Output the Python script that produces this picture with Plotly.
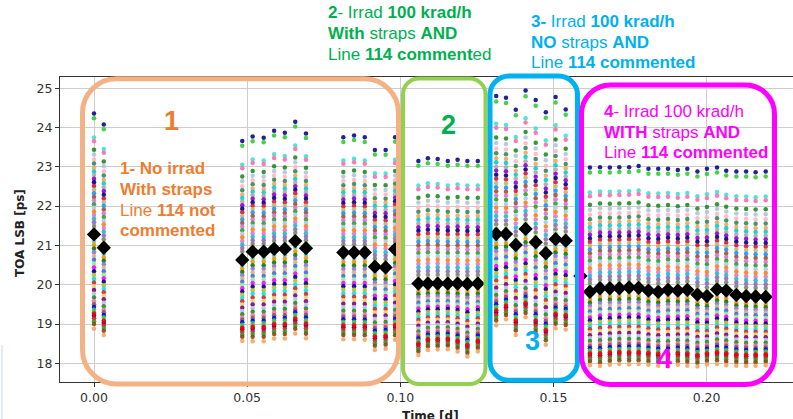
import plotly.graph_objects as go

# ---------------- data ----------------
# time of each measurement column [d]
times = [0.0, 0.0032,
         0.0484, 0.0518, 0.0554, 0.0588, 0.0623, 0.0657, 0.0692,
         0.0814, 0.0849, 0.0884, 0.0917, 0.0952, 0.0983,
         0.1059, 0.1090, 0.1122, 0.1155, 0.1187, 0.1219, 0.1253,
         0.1313, 0.1345, 0.1377, 0.1409, 0.1442, 0.1475, 0.1507, 0.1540,
         0.1588,
         0.1619, 0.1652, 0.1684, 0.1715, 0.1747, 0.1778, 0.1810, 0.1842, 0.1874, 0.1906,
         0.1937, 0.1970, 0.2001, 0.2034, 0.2064, 0.2097, 0.2129, 0.2160, 0.2193]
# mean TOA LSB of each column (black diamonds) [ps]
col_mean = [21.28, 20.94,
            20.63, 20.84, 20.84, 20.91, 20.91, 21.11, 20.93,
            20.82, 20.82, 20.82, 20.46, 20.44, 20.90,
            20.03, 20.03, 20.03, 20.03, 20.03, 20.02, 20.03,
            21.29, 21.29, 21.01, 21.42, 21.08, 20.80, 21.16, 21.12,
            20.22,
            19.82, 19.91, 19.91, 19.91, 19.93, 19.92, 19.85, 19.82, 19.87, 19.85,
            19.87, 19.75, 19.71, 19.88, 19.85, 19.74, 19.71, 19.70, 19.69]
# highest pixel value in each column [ps]
col_top = [24.36, 24.08,
           23.66, 23.77, 23.74, 23.92, 23.87, 24.15, 23.85,
           23.75, 23.80, 23.75, 23.43, 23.43, 23.75,
           23.15, 23.22, 23.20, 23.15, 23.18, 23.15, 23.15,
           24.80, 24.76, 24.45, 24.94, 24.70, 24.39, 24.78, 24.46,
           21.90,
           22.98, 22.99, 22.98, 22.99, 22.99, 23.02, 22.95, 22.95, 22.95, 22.92,
           22.95, 22.88, 22.95, 22.98, 22.90, 22.88, 22.88, 22.86, 22.88]
# lowest pixel value in each column [ps]
col_bottom = [18.88, 18.72,
              18.57, 18.56, 18.56, 18.63, 18.63, 18.76, 18.64,
              18.61, 18.61, 18.60, 18.34, 18.37, 18.60,
              18.21, 18.34, 18.35, 18.36, 18.30, 18.17, 18.30,
              18.97, 19.12, 18.72, 19.17, 18.70, 18.47, 18.89, 18.86,
              18.50,
              17.95, 17.93, 17.96, 17.98, 17.97, 17.98, 17.96, 17.94, 17.92, 17.96,
              17.94, 17.92, 17.97, 17.98, 17.95, 17.94, 17.93, 17.94, 17.95]
# relative position of each pixel channel inside a column
# (+1 = column top, 0 = column mean, -1 = column bottom)
ch_pos = [1.00, 0.96, 0.80, 0.77, 0.70, 0.66, 0.62, 0.585, 0.55, 0.52,
          0.49, 0.46, 0.43, 0.40, 0.37, 0.34, 0.31, 0.28, 0.25, 0.22,
          0.19, 0.16, 0.13, 0.10, 0.07, 0.04,
          0.01, -0.03, -0.07, -0.11, -0.15, -0.19, -0.23, -0.27, -0.31, -0.35,
          -0.39, -0.43, -0.47, -0.51, -0.55, -0.59, -0.63, -0.67, -0.71, -0.74,
          -0.77, -0.80, -0.83, -0.86, -0.89, -0.92, -0.95, -0.84, -1.00]
ch_color = ['#0a0a8c', '#32cd32', '#40e0d0', '#ff69b4', '#228b22', '#b0c4de', '#ffb6c1', '#2e8b57', '#f4a460', '#00ced1',
            '#a9a9a9', '#9400d3', '#000080', '#dc143c', '#bdb76b', '#1e90ff', '#a0522d', '#da70d6', '#2ca02c', '#aec7e8',
            '#ff7f0e', '#e377c2', '#17becf', '#9467bd', '#7f7f7f', '#9acd32',
            '#191970', '#ff9896', '#48d1cc', '#ff8c00', '#008000', '#9370db', '#d2b48c', '#4169e1', '#90ee90', '#ff00ff',
            '#00008b', '#bcbd22', '#00e5ee', '#d62728', '#e6d070', '#800080', '#b0c4de', '#228b22', '#ff69b4', '#8c564b',
            '#0000ff', '#32cd32', '#808080', '#000080', '#e31a1c', '#2ca02c', '#8b4513', '#ff0000', '#f4a460']

xtick_vals = [0.0, 0.05, 0.10, 0.15, 0.20]
xtick_text = ['0.00', '0.05', '0.10', '0.15', '0.20']
ytick_vals = [18, 19, 20, 21, 22, 23, 24, 25]

# ---------------- figure ----------------
W, H = 793, 419
L, R, T, B = 60, 0, 77, 37
PW, PH = W - L - R, H - T - B


def pxx(px):
    return (px - L) / PW


def pxy(py):
    return (H - B - py) / PH


fig = go.Figure()

for pos, col in zip(ch_pos, ch_color):
    ys = []
    for m, t, b in zip(col_mean, col_top, col_bottom):
        ys.append(m + pos * (t - m) if pos >= 0 else m + pos * (m - b))
    fig.add_trace(go.Scatter(x=times, y=ys, mode='markers',
                             marker=dict(size=4.5, color=col, opacity=0.9, line=dict(width=0)),
                             showlegend=False, hoverinfo='skip'))

fig.add_trace(go.Scatter(x=times, y=col_mean, mode='markers',
                         marker=dict(symbol='diamond', size=11, color='black', line=dict(width=0)),
                         showlegend=False, hoverinfo='skip'))


def rr_path(x0, y0, x1, y1, r):
    k = 0.5523 * r
    pts = [('M', [(x0 + r, y0)]), ('L', [(x1 - r, y0)]),
           ('C', [(x1 - r + k, y0), (x1, y0 + r - k), (x1, y0 + r)]),
           ('L', [(x1, y1 - r)]),
           ('C', [(x1, y1 - r + k), (x1 - r + k, y1), (x1 - r, y1)]),
           ('L', [(x0 + r, y1)]),
           ('C', [(x0 + r - k, y1), (x0, y1 - r + k), (x0, y1 - r)]),
           ('L', [(x0, y0 + r)]),
           ('C', [(x0, y0 + r - k), (x0 + r - k, y0), (x0 + r, y0)])]
    s = ''
    for cmd, pp in pts:
        s += cmd + ' ' + ' '.join('%.5f,%.5f' % (pxx(a), pxy(b)) for a, b in pp) + ' '
    return s + 'Z'


boxes = [
    (82.5, 78.7, 398.5, 384, 34, 5, '#F4B183'),
    (403, 78.5, 485.5, 384, 16, 4, '#92D050'),
    (490, 76, 577.5, 380.3, 19, 5, '#00B0F0'),
    (581.5, 85, 774.5, 384.5, 29, 5, '#FF00FF'),
]
shapes = []
for x0, y0, x1, y1, r, w, c in boxes:
    shapes.append(dict(type='path', xref='paper', yref='paper', layer='above',
                       path=rr_path(x0, y0, x1, y1, r), line=dict(color=c, width=w)))
# faint slide edge at lower left
shapes.append(dict(type='line', xref='paper', yref='paper', x0=pxx(2), x1=pxx(2), y0=pxy(345), y1=pxy(419),
                   line=dict(color='#e3ebf6', width=2)))

FONT = 'Liberation Sans, Arial, sans-serif'
ORANGE, GREEN, CYAN, MAGENTA = '#ED7D31', '#00B050', '#00B0F0', '#FF00FF'

annotations = []


def ann(px, py, text, color, size=17, xanchor='left'):
    annotations.append(dict(xref='paper', yref='paper', x=pxx(px), y=pxy(py), text=text,
                            showarrow=False, xanchor=xanchor, yanchor='middle',
                            font=dict(family=FONT, size=size, color=color)))


ann(118, 168.5, '<b>1- No irrad</b>', ORANGE)
ann(118, 189.5, '<b>With straps</b>', ORANGE)
ann(118, 210, 'Line <b>114 not</b>', ORANGE)
ann(118, 231, '<b>commented</b>', ORANGE)

ann(326, 13, '<b>2</b>- Irrad <b>100 krad/h</b>', GREEN)
ann(326, 34, '<b>With</b> straps <b>AND</b>', GREEN)
ann(326, 54.5, 'Line <b>114 comment</b>ed', GREEN)

ann(528.5, 21, '<b>3-</b> Irrad <b>100 krad/h</b>', CYAN)
ann(528.5, 42, '<b>NO</b> straps <b>AND</b>', CYAN)
ann(528.5, 62.5, 'Line <b>114 commented</b>', CYAN)

ann(602, 111.7, '<b>4</b>- Irrad 100 krad/h', MAGENTA)
ann(602, 132, '<b>WITH</b> straps <b>AND</b>', MAGENTA)
ann(602, 152.5, 'Line <b>114 commented</b>', MAGENTA)

ann(171.7, 121, '<b>1</b>', ORANGE, 27, 'center')
ann(448.3, 125, '<b>2</b>', GREEN, 27, 'center')
ann(532.7, 341, '<b>3</b>', CYAN, 27, 'center')
ann(664.7, 358.5, '<b>4</b>', MAGENTA, 27, 'center')

# axis titles
annotations.append(dict(xref='paper', yref='paper', x=pxx(20), y=pxy(233), text='<b>TOA LSB [ps]</b>',
                        textangle=-90, showarrow=False, xanchor='center', yanchor='middle',
                        font=dict(family='DejaVu Sans', size=12, color='#222')))
annotations.append(dict(xref='paper', yref='paper', x=pxx(430), y=pxy(407), text='<b>Time [d]</b>',
                        showarrow=False, xanchor='center', yanchor='top',
                        font=dict(family='DejaVu Sans', size=12, color='#222')))

fig.update_layout(
    width=W, height=H,
    margin=dict(l=L, r=R, t=T, b=B, pad=0),
    paper_bgcolor='white', plot_bgcolor='white',
    shapes=shapes, annotations=annotations,
    hovermode=False,
    xaxis=dict(range=[-0.0111, 0.2282], tickvals=xtick_vals, ticktext=xtick_text,
               showgrid=True, gridcolor='#cdcdcd', gridwidth=1.2, zeroline=False,
               showline=True, linecolor='#333', linewidth=1.2, mirror=True,
               ticks='outside', ticklen=4, tickcolor='#333',
               tickfont=dict(family='DejaVu Sans', size=12.5, color='#333')),
    yaxis=dict(range=[17.524, 25.286], tickvals=ytick_vals,
               showgrid=True, gridcolor='#cdcdcd', gridwidth=1.2, zeroline=False,
               showline=True, linecolor='#333', linewidth=1.2,
               ticks='outside', ticklen=4, tickcolor='#333',
               tickfont=dict(family='DejaVu Sans', size=12.5, color='#333')),
)

fig.write_html('out.html', config={'displayModeBar': False},
               post_script="document.body.style.margin='0';document.body.style.overflow='hidden';")
